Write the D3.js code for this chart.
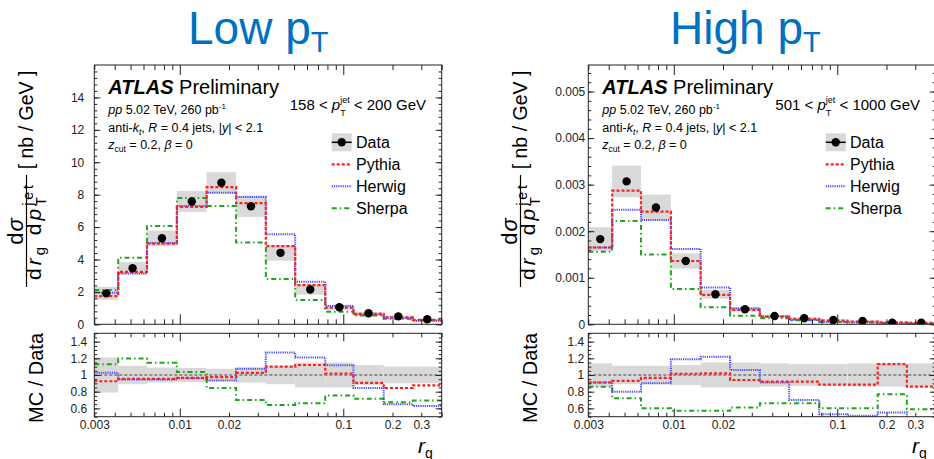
<!DOCTYPE html>
<html><head><meta charset="utf-8">
<script src="https://cdn.jsdelivr.net/npm/d3@7"></script>
<style>
body{margin:0;background:#fff;}
svg{display:block;}
text{white-space:pre;}
</style></head><body>
<svg id="c" width="934" height="459"></svg>
<script>
// ---------------- data ----------------
const rgEdges = [0.003, 0.0042, 0.0063, 0.0096, 0.0146, 0.0221, 0.0336, 0.0508, 0.0776, 0.1154, 0.1767, 0.2665, 0.4];
const xTickLabels = [0.003, 0.01, 0.02, 0.1, 0.2, 0.3];
const xMajorTicks = [0.01, 0.1];
const xMinorTicks = [0.003, 0.004, 0.005, 0.006, 0.007, 0.008, 0.009, 0.02, 0.03, 0.04, 0.05, 0.06, 0.07, 0.08, 0.09, 0.2, 0.3, 0.4];
const panelTitles = ["Low p", "High p"];
const seriesNames = ["Data", "Pythia", "Herwig", "Sherpa"];

const lowYTicks = [0, 2, 4, 6, 8, 10, 12, 14];
const highYTicks = [0, 0.001, 0.002, 0.003, 0.004, 0.005];
const ratioYTicks = [0.6, 0.8, 1, 1.2, 1.4];

// Low pT: 158 < pT < 200 GeV
const lowData    = [1.91, 3.46, 5.31, 7.58, 8.73, 7.28, 4.41, 2.15, 1.05, 0.68, 0.49, 0.31];
const lowErr     = [0.21, 0.11, 0.09, 0.085, 0.075, 0.09, 0.11, 0.15, 0.15, 0.12, 0.10, 0.10];
const lowPythia  = [1.74, 3.24, 4.98, 7.24, 8.46, 7.48, 4.82, 2.42, 1.02, 0.64, 0.43, 0.27];
const lowHerwig  = [1.95, 3.14, 5.02, 7.30, 8.12, 7.85, 5.55, 2.62, 1.13, 0.61, 0.37, 0.20];
const lowSherpa  = [2.11, 4.10, 6.07, 7.79, 7.30, 5.04, 2.79, 1.50, 0.78, 0.55, 0.35, 0.27];
const lowPythiaRatio = [0.925, 0.953, 0.953, 0.965, 0.975, 1.026, 1.10, 1.12, 1.018, 0.905, 0.844, 0.876];
const lowHerwigRatio = [1.026, 0.945, 0.945, 0.96, 0.933, 1.075, 1.27, 1.21, 1.116, 0.844, 0.649, 0.628];
const lowSherpaRatio = [1.128, 1.197, 1.148, 1.035, 0.844, 0.70, 0.64, 0.66, 0.754, 0.714, 0.673, 0.693];

// High pT: 501 < pT < 1000 GeV
const highData   = [0.00183, 0.00307, 0.00251, 0.00136, 0.000645, 0.000322, 0.000179, 0.000129, 0.000093, 0.000072, 0.000036, 0.000036];
const highErr    = [0.14, 0.11, 0.11, 0.12, 0.15, 0.15, 0.14, 0.13, 0.13, 0.14, 0.14, 0.14];
const highPythia = [0.00165, 0.00287, 0.00242, 0.00136, 0.00063, 0.00031, 0.000165, 0.000115, 0.00008, 0.00006, 0.00004, 0.00003];
const highHerwig = [0.00165, 0.00246, 0.00224, 0.00162, 0.00079, 0.00034, 0.000165, 0.00009, 0.00005, 0.000037, 0.00002, 0.000012];
const highSherpa = [0.00156, 0.00222, 0.00150, 0.00076, 0.000365, 0.000186, 0.00013, 0.000085, 0.000055, 0.000042, 0.00003, 0.000018];
const highPythiaRatio = [0.91, 0.93, 0.965, 1.015, 1.02, 0.94, 0.92, 0.92, 0.885, 0.885, 1.13, 0.86];
const highHerwigRatio = [0.91, 0.80, 0.90, 1.19, 1.22, 1.06, 0.91, 0.70, 0.53, 0.51, 0.55, 0.42];
const highSherpaRatio = [0.86, 0.72, 0.60, 0.57, 0.57, 0.61, 0.66, 0.66, 0.60, 0.60, 0.77, 0.59];

// ---------------- styling / layout ----------------
const FONT = '"Liberation Sans", Arial, Helvetica, sans-serif';
const INK = "#222";
const styles = {
  Pythia: {stroke: "#ff1f1f", width: 2.2, dash: "3,2"},
  Herwig: {stroke: "#4a4aff", width: 2.0, dash: "1.2,1"},
  Sherpa: {stroke: "#1ea51e", width: 2.0, dash: "5,3,1.5,3"}
};
const mainTop = 65, mainBot = 324.3, ratTop = 333.3, ratBot = 416.7;

const panels = [
  {x0: 94.3, x1: 441.7, off: 0, yMax: 16, yTicks: lowYTicks, yMinorStep: 0.4, fmt: d => String(d),
   gap: 10, rgap: 7, data: lowData, err: lowErr, mc: [lowPythia, lowHerwig, lowSherpa],
   ratio: [lowPythiaRatio, lowHerwigRatio, lowSherpaRatio], title: panelTitles[0], titleX: 188, pt: ["158", "200"]},
  {x0: 588.3, x1: 935.7, off: 494, yMax: 0.00557, yTicks: highYTicks, yMinorStep: 0.0002, fmt: d => d === 0 ? "0" : d.toFixed(3),
   gap: 3, rgap: 4, data: highData, err: highErr, mc: [highPythia, highHerwig, highSherpa],
   ratio: [highPythiaRatio, highHerwigRatio, highSherpaRatio], title: panelTitles[1], titleX: 670, pt: ["501", "1000"]}
];

const svg = d3.select("#c");

function rich(parent, x, y, parts, base) {
  const t = parent.append("text").attr("x", x).attr("y", y)
    .style("font-family", FONT).style("font-size", base.size + "px").attr("fill", base.fill || "#000");
  if (base.anchor) t.attr("text-anchor", base.anchor);
  if (base.transform) t.attr("transform", base.transform);
  if (base.spacing) t.style("letter-spacing", base.spacing + "px");
  let cur = 0, pendingDx = 0;
  parts.forEach(p => {
    if (p.stack) {
      const a = t.append("tspan").text(p.stack[0]).style("font-size", p.size + "px")
        .attr("dy", p.up - cur).attr("dx", pendingDx);
      cur = p.up;
      const w1 = a.node().getComputedTextLength();
      const b = t.append("tspan").text(p.stack[1]).style("font-size", p.size + "px")
        .attr("dx", -w1).attr("dy", p.down - cur);
      cur = p.down;
      const w2 = b.node().getComputedTextLength();
      pendingDx = Math.max(0, w1 - w2);
      return;
    }
    const s = t.append("tspan").text(p.t);
    const shift = p.shift || 0;
    s.attr("dy", shift - cur); cur = shift;
    if (pendingDx) { s.attr("dx", pendingDx); pendingDx = 0; }
    if (p.i) s.style("font-style", "italic");
    if (p.b) s.style("font-weight", "bold");
    if (p.size) s.style("font-size", p.size + "px");
  });
  return t;
}

function styleAxis(g) {
  g.select(".domain").remove();
  g.selectAll("line").attr("stroke", INK).attr("stroke-width", 1);
  g.selectAll("text").style("font-family", FONT).style("font-size", "12px").attr("fill", INK);
}

panels.forEach((P, pi) => {
  const x = d3.scaleLog().domain([rgEdges[0], rgEdges[rgEdges.length - 1]]).range([P.x0, P.x1]);
  const y = d3.scaleLinear().domain([0, P.yMax]).range([mainBot, mainTop]);
  const yr = d3.scaleLinear().domain([0.5, 1.5]).range([ratBot, ratTop]);
  const bins = d3.range(rgEdges.length - 1);
  const G = svg.append("g");

  const clipId = "clipR" + pi, clipM = "clipM" + pi;
  const defs = svg.append("defs");
  defs.append("clipPath").attr("id", clipId).append("rect")
    .attr("x", P.x0).attr("y", ratTop).attr("width", P.x1 - P.x0).attr("height", ratBot - ratTop);
  defs.append("clipPath").attr("id", clipM).append("rect")
    .attr("x", P.x0).attr("y", mainTop).attr("width", P.x1 - P.x0).attr("height", mainBot - mainTop);

  // ---- main panel ----
  const M = G.append("g").attr("clip-path", `url(#${clipM})`);
  M.selectAll("rect.err").data(bins).join("rect").attr("class", "err")
    .attr("x", i => x(rgEdges[i])).attr("width", i => x(rgEdges[i + 1]) - x(rgEdges[i]))
    .attr("y", i => y(P.data[i] * (1 + P.err[i])))
    .attr("height", i => y(P.data[i] * (1 - P.err[i])) - y(P.data[i] * (1 + P.err[i])))
    .attr("fill", "#d9d9d9");
  const stepLine = (vals, ys) => d3.line().curve(d3.curveStepAfter)
    .x(d => x(d[0])).y(d => ys(d[1]))(bins.map(i => [rgEdges[i], vals[i]]).concat([[rgEdges[rgEdges.length - 1], vals[vals.length - 1]]]));
  ["Sherpa", "Herwig", "Pythia"].forEach(n => {
    const idx = ["Pythia", "Herwig", "Sherpa"].indexOf(n);
    M.append("path").attr("d", stepLine(P.mc[idx], y)).attr("fill", "none")
      .attr("stroke", styles[n].stroke).attr("stroke-width", styles[n].width).attr("stroke-dasharray", styles[n].dash);
  });
  M.selectAll("circle.dat").data(bins).join("circle").attr("class", "dat")
    .attr("cx", i => x(Math.sqrt(rgEdges[i] * rgEdges[i + 1]))).attr("cy", i => y(P.data[i]))
    .attr("r", 4.2).attr("fill", "#000");

  // ---- ratio panel ----
  const R = G.append("g").attr("clip-path", `url(#${clipId})`);
  R.selectAll("rect.err").data(bins).join("rect").attr("class", "err")
    .attr("x", i => x(rgEdges[i])).attr("width", i => x(rgEdges[i + 1]) - x(rgEdges[i]))
    .attr("y", i => yr(1 + P.err[i])).attr("height", i => yr(1 - P.err[i]) - yr(1 + P.err[i]))
    .attr("fill", "#d9d9d9");
  R.append("line").attr("x1", P.x0).attr("x2", P.x1).attr("y1", yr(1)).attr("y2", yr(1))
    .attr("stroke", "#444").attr("stroke-width", 1).attr("stroke-dasharray", "3,2");
  ["Sherpa", "Herwig", "Pythia"].forEach(n => {
    const idx = ["Pythia", "Herwig", "Sherpa"].indexOf(n);
    R.append("path").attr("d", stepLine(P.ratio[idx], yr)).attr("fill", "none")
      .attr("stroke", styles[n].stroke).attr("stroke-width", styles[n].width).attr("stroke-dasharray", styles[n].dash);
  });

  // ---- frames ----
  [[mainTop, mainBot], [ratTop, ratBot]].forEach(([t, b]) => {
    G.append("rect").attr("x", P.x0).attr("y", t).attr("width", P.x1 - P.x0).attr("height", b - t)
      .attr("fill", "none").attr("stroke", INK).attr("stroke-width", 1);
  });

  // ---- axes ----
  const tick = (axisFn, scale, vals, size, tr) =>
    G.append("g").attr("transform", tr).call(axisFn(scale).tickValues(vals).tickSize(-size).tickFormat("")).call(styleAxis);
  [[mainTop, mainBot, 10, 5], [ratTop, ratBot, 8, 4]].forEach(([t, b, big, small]) => {
    tick(d3.axisBottom, x, xMajorTicks, big, `translate(0,${b})`);
    tick(d3.axisBottom, x, xMinorTicks, small, `translate(0,${b})`);
    tick(d3.axisTop, x, xMajorTicks, big, `translate(0,${t})`);
    tick(d3.axisTop, x, xMinorTicks, small, `translate(0,${t})`);
  });
  G.append("g").attr("transform", `translate(0,${ratBot})`)
    .call(d3.axisBottom(x).tickValues(xTickLabels).tickSize(0).tickPadding(4).tickFormat(d => String(d)))
    .call(styleAxis);
  const yMinor = d3.range(0, P.yMax, P.yMinorStep);
  G.append("g").attr("transform", `translate(${P.x0},0)`)
    .call(d3.axisLeft(y).tickValues(P.yTicks).tickSize(-6).tickPadding(P.gap).tickFormat(P.fmt)).call(styleAxis);
  tick(d3.axisLeft, y, yMinor, 3, `translate(${P.x0},0)`);
  tick(d3.axisRight, y, P.yTicks, 6, `translate(${P.x1},0)`);
  tick(d3.axisRight, y, yMinor, 3, `translate(${P.x1},0)`);
  const rMinor = d3.range(0.5, 1.5001, 0.05);
  G.append("g").attr("transform", `translate(${P.x0},0)`)
    .call(d3.axisLeft(yr).tickValues(ratioYTicks).tickSize(-6).tickPadding(P.rgap).tickFormat(d => String(d))).call(styleAxis);
  tick(d3.axisLeft, yr, rMinor, 3, `translate(${P.x0},0)`);
  tick(d3.axisRight, yr, ratioYTicks, 6, `translate(${P.x1},0)`);
  tick(d3.axisRight, yr, rMinor, 3, `translate(${P.x1},0)`);

  // ---- title ----
  rich(G, P.titleX, 44, [{t: P.title}, {t: "T", size: 29, shift: 8}], {size: 46, fill: "#0070c0"});

  // ---- ATLAS labels ----
  const o = P.off, tx = 108.3 + o;
  rich(G, tx, 94.3, [{t: "ATLAS", b: true, i: true}, {t: " Preliminary"}], {size: 20});
  rich(G, tx, 114, [{t: "pp", i: true}, {t: " 5.02 TeV, 260 pb"}, {t: "-1", size: 8, shift: -5}], {size: 12.5});
  rich(G, tx, 131.5, [{t: "anti-"}, {t: "k", i: true}, {t: "t", i: true, size: 8.5, shift: 3}, {t: ", "}, {t: "R", i: true},
    {t: " = 0.4 jets, |"}, {t: "y", i: true}, {t: "| < 2.1"}], {size: 12.5});
  rich(G, tx, 148.5, [{t: "z", i: true}, {t: "cut", size: 8.5, shift: 3}, {t: " = 0.2, "}, {t: "β", i: true}, {t: " = 0"}], {size: 12.5});
  rich(G, 426 + o, 110, [{t: P.pt[0] + " < "}, {t: "p", i: true}, {stack: ["jet", "T"], size: 9, up: -7, down: 6},
    {t: " < " + P.pt[1] + " GeV"}], {size: 15, anchor: "end"});

  // ---- legend ----
  const lx0 = 331.7 + o, lx1 = 351.7 + o, rows = [142.3, 164.3, 186.3, 208.3];
  G.append("rect").attr("x", lx0).attr("y", rows[0] - 9).attr("width", lx1 - lx0).attr("height", 18).attr("fill", "#d9d9d9");
  G.append("line").attr("x1", lx0).attr("x2", lx1).attr("y1", rows[0]).attr("y2", rows[0]).attr("stroke", "#000").attr("stroke-width", 1.5);
  G.append("circle").attr("cx", (lx0 + lx1) / 2).attr("cy", rows[0]).attr("r", 4.2).attr("fill", "#000");
  ["Pythia", "Herwig", "Sherpa"].forEach((n, k) => {
    G.append("line").attr("x1", lx0).attr("x2", lx1).attr("y1", rows[k + 1]).attr("y2", rows[k + 1])
      .attr("stroke", styles[n].stroke).attr("stroke-width", styles[n].width).attr("stroke-dasharray", styles[n].dash);
  });
  seriesNames.forEach((n, k) => {
    G.append("text").attr("x", 356 + o).attr("y", rows[k] + 6).text(n)
      .style("font-family", FONT).style("font-size", "16px").attr("fill", "#000");
  });

  // ---- axis titles ----
  const fc = 231;
  G.append("line").attr("x1", 26.5 + o).attr("x2", 26.5 + o).attr("y1", fc - 56).attr("y2", fc + 56)
    .attr("stroke", "#000").attr("stroke-width", 1.2);
  rich(G, 0, 0, [{t: "d"}, {t: "σ", i: true}], {size: 22, anchor: "middle", spacing: 1,
    transform: `translate(${22.5 + o},${fc}) rotate(-90)`});
  rich(G, 0, 0, [{t: "d"}, {t: "r", i: true}, {t: "g", size: 15, shift: 4}, {t: " d"}, {t: "p", i: true},
    {stack: ["jet", "T"], size: 14, up: -8, down: 5}], {size: 21, anchor: "middle", spacing: 3,
    transform: `translate(${40.5 + o},${fc}) rotate(-90)`});
  rich(G, 0, 0, [{t: "[ nb / GeV ]"}], {size: 19.5, anchor: "middle", transform: `translate(${33 + o},120) rotate(-90)`});
  rich(G, 0, 0, [{t: "MC / Data"}], {size: 20, anchor: "middle", transform: `translate(${43 + o},378) rotate(-90)`});
  rich(G, 418 + o, 452.5, [{t: "r", i: true}, {t: "g", size: 14, shift: 5}], {size: 21});
});
</script>
</body></html>
